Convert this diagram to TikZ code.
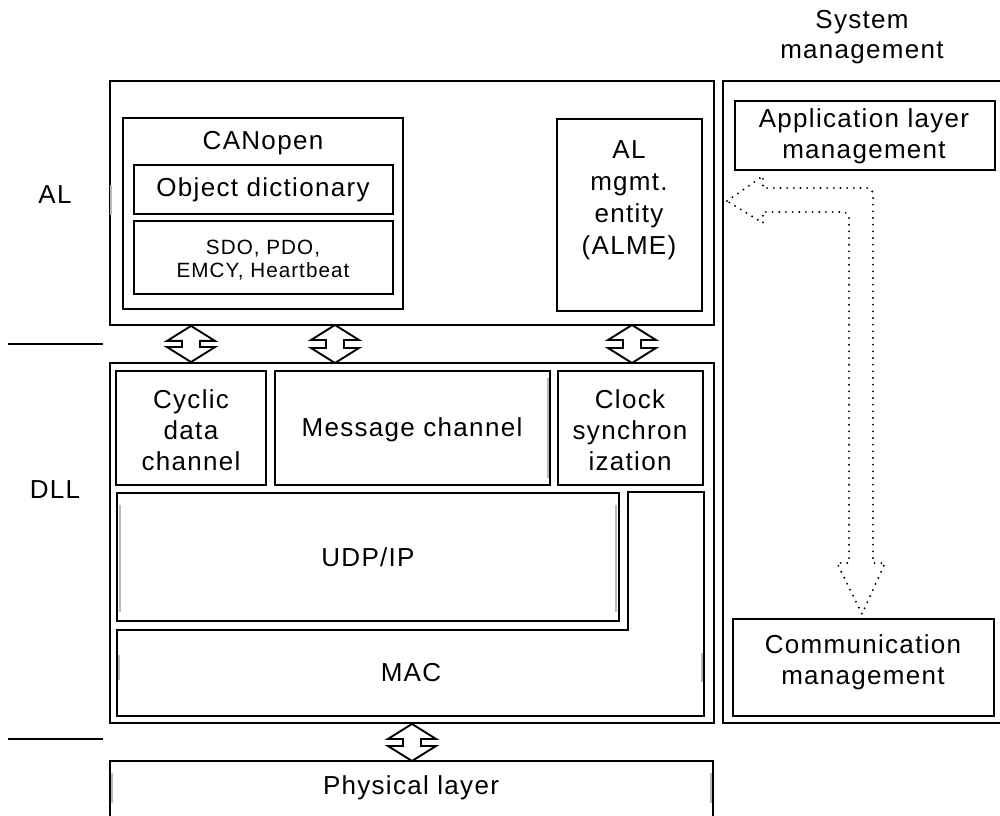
\documentclass[tikz,border=0pt]{standalone}
\usepackage{fontspec}
\setmainfont{Liberation Sans}[LetterSpace=5]
\usetikzlibrary{fit,calc}
\begin{document}
\begin{tikzpicture}[x=0.75pt,y=-0.75pt,
  box/.style={draw, line width=1.4pt, inner sep=0pt},
  txt/.style={align=center, inner sep=0pt, font=\fontsize{19.5}{23.25}\selectfont},
  smalltxt/.style={align=center, inner sep=0pt, font=\fontsize{15.5}{17.5}\selectfont},
  dblarr/.style={draw, line width=1.4pt, fill=white, line join=miter},
  dotarrow/.style={draw, line width=1.6pt, line cap=round, dash pattern=on 0pt off 5pt},
  sep/.style={draw, line width=2.2pt},
  gbar/.style={draw=gray!55, line width=2.2pt}]
\useasboundingbox (0,0) rectangle (1000,816);
\clip (0,0) rectangle (1000,816);

% outer boxes
\node[box, fit={(110,81) (714,325)}] (al) {};
\node[box, fit={(110,363) (714,723)}] (dll) {};
\node[box, fit={(723,81) (1004,723)}] (sys) {};
\draw[line width=1.4pt] (110,830) -- (110,761) -- (713,761) -- (713,830);
\coordinate (phystop) at (412,761);

% AL contents
\node[box, fit={(123,118) (403,309)}] (canbox) {};
\node[box, fit={(134,165) (393,214)}] (objbox) {};
\node[box, fit={(134,221) (393,294)}] (sdobox) {};
\node[box, fit={(557,119) (702,311)}] (almebox) {};
\node[txt] (canopen) at (263,143) {CANopen};
\node[txt] (objd) at (263,190) {Object dictionary};
\node[smalltxt] (sdo) at (263,260) {SDO, PDO,\\EMCY, Heartbeat};
\node[txt, font=\fontsize{19.5}{24}\selectfont] (alme) at (629,200) {AL\\mgmt.\\entity\\(ALME)};

% DLL contents
\node[box, fit={(116,371) (266,485)}] (cycbox) {};
\node[box, fit={(275,371) (550,485)}] (msgbox) {};
\node[box, fit={(558,371) (703,485)}] (clkbox) {};
\node[box, fit={(117,493) (619,621)}] (udpbox) {};
\draw[line width=1.4pt] (628,492) -- (704,492) -- (704,716) -- (117,716) -- (117,630) -- (628,630) -- cycle;
\node[txt] (cyc) at (191,430) {Cyclic\\data\\channel};
\node[txt] (msg) at (412,430) {Message channel};
\node[txt] (clk) at (630,430) {Clock\\synchron\\ization};
\node[txt] (udp) at (368,557) {UDP/IP};
\node[txt] (mac) at (411,673) {MAC};
\node[txt] (phys) at (411,788) {Physical layer};

% system management
\node[txt, font=\fontsize{19.5}{22.5}\selectfont] (sysm) at (862,37) {System\\management};
\node[box, fit={(735,101) (995,170)}] (appbox) {};
\node[txt] (app) at (864,136) {Application layer\\management};
\node[box, fit={(733,619) (994,716)}] (commbox) {};
\node[txt] (comm) at (863,662) {Communication\\management};

% layer labels and separators
\node[txt] (allbl) at (55,195) {AL};
\node[txt] (dlllbl) at (55,490) {DLL};
\coordinate (s1a) at (8,344); \coordinate (s1b) at (103,344);
\coordinate (s2a) at (8,739); \coordinate (s2b) at (103,739);
\draw[sep] (s1a) -- (s1b);
\draw[sep] (s2a) -- (s2b);

% double arrows
\newcommand\dblarrow[2]{%
  \draw[dblarr] (#1) -- ++(-24,15) -- ++(15,0) |- ($(#2)+(-9,-15)$) -- ++(-15,0)
    -- (#2) -- ++(24,-15) -- ++(-15,0) |- ($(#1)+(9,15)$) -- ++(15,0) -- cycle;}
\coordinate (a1t) at (cycbox.north |- al.south);
\coordinate (a1b) at (cycbox.north |- dll.north);
\coordinate (a2t) at (335,325);
\coordinate (a2b) at (335,363);
\coordinate (a3t) at (632,325);
\coordinate (a3b) at (632,363);
\coordinate (a4t) at (dll.south);
\coordinate (a4b) at (phystop);
\dblarrow{a1t}{a1b}
\dblarrow{a2t}{a2b}
\dblarrow{a3t}{a3b}
\dblarrow{a4t}{a4b}

% dotted L-shaped arrow
\coordinate (dtip) at (727,201);
\coordinate (dbot) at (862,614);
\draw[dotarrow] (dtip) -- (763,176) -- (763,188) [rounded corners=4pt]-- (873,188) [sharp corners]-- (873,563)
  -- (885,563) -- (dbot) -- (837,563) -- (849,563) [rounded corners=4pt]-- (849,212) [sharp corners]-- (763,212)
  -- (763,223) -- cycle;

% gray marks
\draw[gbar] (111,185) -- (111,215);
\draw[gbar] (548,378) -- (548,478);
\draw[gbar] (120,505) -- (120,612);
\draw[gbar] (616,505) -- (616,612);
\draw[gbar] (119,655) -- (119,680);
\draw[gbar] (702,653) -- (702,682);
\draw[gbar] (112,773) -- (112,803);
\draw[gbar] (711,773) -- (711,803);
\end{tikzpicture}
\end{document}
